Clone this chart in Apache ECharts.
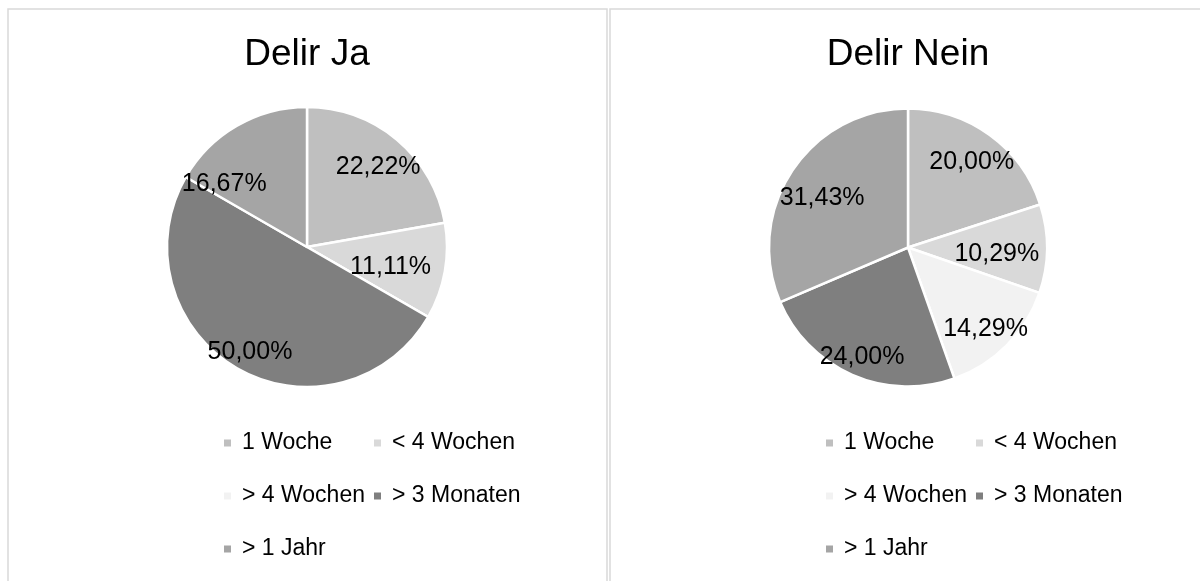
<!DOCTYPE html>
<html>
<head>
<meta charset="utf-8">
<script src="https://cdn.jsdelivr.net/npm/echarts@6/dist/echarts.min.js"></script>
<style>
    html, body { margin: 0; padding: 0; background: #fff; }
    #chart { width: 1200px; height: 581px; }
</style>
</head>
<body>
<div id="chart"></div>
<script>
// Kategorien und Werte (Prozent)
const categories = ['1 Woche', '< 4 Wochen', '> 4 Wochen', '> 3 Monaten', '> 1 Jahr']
const titles = ['Delir Ja', 'Delir Nein']
const delirJa = [22.22, 11.11, 0, 50.00, 16.67]
const delirNein = [20.00, 10.29, 14.29, 24.00, 31.43]

// Farben der Segmente
const colors = ['#bfbfbf', '#d9d9d9', '#f2f2f2', '#7f7f7f', '#a5a5a5']

// Lage der Kreise
const centers = [[307, 247], [908, 247.5]]
const radii = [140, 139]
// Beschriftung: Abstand vom Mittelpunkt (Anteil vom Radius) und Drehung in Grad
const labelDist = [
    [0.775, 0.61, 0.7, 0.84, 0.75],
    [0.78, 0.64, 0.80, 0.84, 0.72]
]
const labelTurn = [
    [1, 2, 0, -1, -22],
    [0, 2.4, 1, -0.5, -2.5]
]

const FONT = 'Liberation Sans, Arial, sans-serif'

const myChart = echarts.init(document.getElementById('chart'))

function makePie(values, idx) {
    return {
        name: titles[idx],
        type: 'pie',
        center: centers[idx],
        radius: radii[idx],
        startAngle: 90,
        clockwise: true,
        silent: true,
        animation: false,
        itemStyle: {
            borderColor: '#ffffff',
            borderWidth: 2.5
        },
        label: {
            show: true,
            position: 'inside',
            fontFamily: FONT,
            fontSize: 25,
            color: '#000000',
            formatter: function (p) {
                if (!p.value) return ''
                return p.value.toFixed(2).replace('.', ',') + '%'
            }
        },
        labelLine: { show: false },
        // Beschriftung wie im Original etwas weiter aussen
        labelLayout: function (p) {
            const s = p.seriesIndex
            const c = centers[s]
            const r = radii[s]
            const lx = p.labelRect.x + p.labelRect.width / 2
            const ly = p.labelRect.y + p.labelRect.height / 2
            const ang = Math.atan2(ly - c[1], lx - c[0]) + labelTurn[s][p.dataIndex] * Math.PI / 180
            const d = labelDist[s][p.dataIndex] * r
            return {
                x: c[0] + d * Math.cos(ang),
                y: c[1] + d * Math.sin(ang) + 2,
                align: 'center',
                verticalAlign: 'middle'
            }
        },
        data: values.map(function (v, i) {
            return { name: categories[i], value: v, itemStyle: { color: colors[i] } }
        })
    }
}

// Legende in zwei Spalten
function makeLegend(left, names) {
    return {
        left: left,
        top: 428,
        orient: 'vertical',
        icon: 'rect',
        itemWidth: 9,
        itemHeight: 9,
        itemGap: 23,
        padding: 0,
        selectedMode: false,
        data: names,
        textStyle: {
            fontFamily: FONT,
            fontSize: 23,
            color: '#000000',
            lineHeight: 30,
            padding: [0, 0, 0, 5]
        }
    }
}

const col1 = [categories[0], categories[2], categories[4]]
const col2 = [categories[1], categories[3]]

const option = {
    backgroundColor: '#ffffff',
    graphic: [
        {
            type: 'rect',
            shape: { x: 8, y: 9, width: 599, height: 620 },
            style: { fill: '#ffffff', stroke: '#d9d9d9', lineWidth: 1.5 },
            z: -10
        },
        {
            type: 'rect',
            shape: { x: 610, y: 9, width: 620, height: 620 },
            style: { fill: '#ffffff', stroke: '#d9d9d9', lineWidth: 1.5 },
            z: -10
        }
    ],
    title: titles.map(function (t, i) {
        return {
            text: t,
            left: centers[i][0],
            top: 36,
            textAlign: 'center',
            padding: 0,
            textStyle: {
                fontFamily: FONT,
                fontSize: 37,
                fontWeight: 'normal',
                color: '#000000'
            }
        }
    }),
    legend: [
        makeLegend(222, col1), makeLegend(372, col2),
        makeLegend(824, col1), makeLegend(974, col2)
    ],
    series: [makePie(delirJa, 0), makePie(delirNein, 1)]
}

myChart.setOption(option)
</script>
</body>
</html>
